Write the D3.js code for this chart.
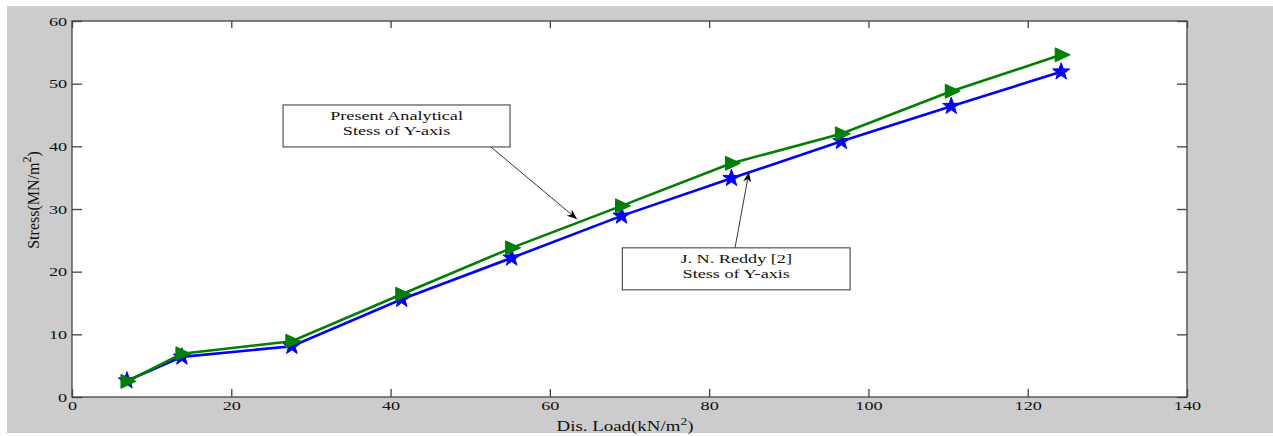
<!DOCTYPE html>
<html>
<head>
<meta charset="utf-8">
<script src="https://cdn.jsdelivr.net/npm/d3@7"></script>
<style>
  body { margin: 0; background: #fff; }
  text { font-family: "Liberation Serif", "Times New Roman", serif; fill: #111; }
</style>
</head>
<body>
<div id="chart"></div>
<script>
// values
const loads = [6.9, 13.8, 27.6, 41.4, 55.2, 69.0, 82.8, 96.6, 110.4, 124.2];
const presentStress = [2.5, 6.9, 8.9, 16.4, 23.8, 30.5, 37.3, 42.0, 48.8, 54.6];
const reddyStress = [2.6, 6.4, 8.1, 15.6, 22.2, 28.9, 34.9, 40.8, 46.4, 51.9];
const xTicks = [0, 20, 40, 60, 80, 100, 120, 140];
const yTicks = [0, 10, 20, 30, 40, 50, 60];

const width = 1273;
const height = 436;
const margin = { top: 21, right: 86, bottom: 39, left: 72 };

const svg = d3.select('#chart')
  .append('svg')
  .attr('width', width)
  .attr('height', height);

// grey figure background
svg.append('rect')
  .attr('x', 7).attr('y', 6)
  .attr('width', width - 7).attr('height', 427)
  .attr('fill', '#cccccc');

const x = d3.scaleLinear().domain([0, 140]).range([margin.left, width - margin.right]);
const y = d3.scaleLinear().domain([0, 60]).range([height - margin.bottom, margin.top]);

svg.append('rect')
  .attr('x', x(0)).attr('y', y(60))
  .attr('width', x(140) - x(0)).attr('height', y(0) - y(60))
  .attr('fill', '#fff')
  .attr('stroke', '#444')
  .attr('stroke-width', 1.3);

const stretch = 1.4; // picture is stretched sideways

const xAxis = svg.append('g')
  .attr('transform', `translate(0,${y(0)})`)
  .call(d3.axisBottom(x).tickValues(xTicks).tickSizeInner(-8).tickSizeOuter(0).tickPadding(4));
xAxis.selectAll('text')
  .style('font-size', '13px')
  .attr('transform', `scale(${stretch},1)`);

svg.append('g')
  .attr('transform', `translate(0,${y(60)})`)
  .call(d3.axisTop(x).tickValues(xTicks).tickSizeInner(-7).tickSizeOuter(0).tickFormat(''));

const yAxis = svg.append('g')
  .attr('transform', `translate(${x(0)},0)`)
  .call(d3.axisLeft(y).tickValues(yTicks).tickSizeInner(-10).tickSizeOuter(0).tickPadding(3.5));
yAxis.selectAll('text')
  .style('font-size', '13px')
  .attr('transform', `scale(${stretch},1)`);

svg.append('g')
  .attr('transform', `translate(${x(140)},0)`)
  .call(d3.axisRight(y).tickValues(yTicks).tickSizeInner(-10).tickSizeOuter(0).tickFormat(''));

svg.selectAll('.domain').remove();
svg.selectAll('.tick line').attr('stroke', '#444').attr('stroke-width', 1.3);

// axis titles
const xt = svg.append('text')
  .attr('text-anchor', 'middle')
  .attr('transform', `translate(625,431) scale(1.35,1)`)
  .style('font-size', '14px');
xt.append('tspan').text('Dis. Load(kN/m');
xt.append('tspan').attr('dy', -6).style('font-size', '10px').text('2');
xt.append('tspan').attr('dy', 6).text(')');

const yt = svg.append('text')
  .attr('text-anchor', 'middle')
  .attr('transform', 'translate(39,200) rotate(-90)')
  .style('font-size', '16px');
yt.append('tspan').text('Stress(MN/m');
yt.append('tspan').attr('dy', -8).style('font-size', '12px').text('2');
yt.append('tspan').attr('dy', 8).text(')');

// series
const series = [
  { values: reddyStress, color: '#0000ff', marker: 'star' },
  { values: presentStress, color: '#008000', marker: 'tri' }
];

const line = d3.line().x(d => x(d[0])).y(d => y(d[1]));

const star = (() => {
  const pts = [];
  for (let i = 0; i < 10; i++) {
    const r = i % 2 === 0 ? 9 : 3.6;
    const a = -Math.PI / 2 + i * Math.PI / 5;
    pts.push([r * Math.cos(a), r * Math.sin(a)]);
  }
  return 'M' + pts.map(p => p.join(',')).join('L') + 'Z';
})();
const tri = 'M-6,-7L9,0L-6,7Z';

series.forEach(s => {
  const pts = loads.map((l, i) => [l, s.values[i]]);
  svg.append('path')
    .attr('d', line(pts))
    .attr('fill', 'none')
    .attr('stroke', s.color)
    .attr('stroke-width', 2.6);
  svg.append('g').selectAll('path')
    .data(pts)
    .enter().append('path')
    .attr('transform', d => `translate(${x(d[0])},${y(d[1])})`)
    .attr('d', s.marker === 'star' ? star : tri)
    .attr('fill', s.color)
    .attr('stroke', s.color)
    .attr('stroke-width', 1);
});

// annotations (data coordinates)
svg.append('defs').append('marker')
  .attr('id', 'head')
  .attr('viewBox', '0 -4 10 8')
  .attr('refX', 10).attr('refY', 0)
  .attr('markerWidth', 11).attr('markerHeight', 8)
  .attr('markerUnits', 'userSpaceOnUse')
  .attr('orient', 'auto')
  .append('path')
  .attr('d', 'M0,-4L10,0L0,4L3,0Z')
  .attr('fill', '#000');

const notes = [
  { lines: ['Present Analytical', 'Stess of Y-axis'], box: [26.5, 46.6, 55.0, 39.9], from: [52.5, 40.0], to: [63.4, 28.4] },
  { lines: ['J. N. Reddy [2]', 'Stess of Y-axis'], box: [69.1, 23.8, 97.7, 17.1], from: [83.25, 23.8], to: [85.0, 35.9] }
];

notes.forEach(n => {
  svg.append('line')
    .attr('x1', x(n.from[0])).attr('y1', y(n.from[1]))
    .attr('x2', x(n.to[0])).attr('y2', y(n.to[1]))
    .attr('stroke', '#222')
    .attr('stroke-width', 0.9)
    .attr('marker-end', 'url(#head)');
  const bx = x(n.box[0]), by = y(n.box[1]);
  const bw = x(n.box[2]) - bx, bh = y(n.box[3]) - by;
  svg.append('rect')
    .attr('x', bx).attr('y', by)
    .attr('width', bw).attr('height', bh)
    .attr('fill', '#fff')
    .attr('stroke', '#333')
    .attr('stroke-width', 1);
  n.lines.forEach((t, i) => {
    svg.append('text')
      .attr('text-anchor', 'middle')
      .attr('transform', `translate(${bx + bw / 2},${by + 15 + i * 15}) scale(1.4,1)`)
      .style('font-size', '13px')
      .text(t);
  });
});
</script>
</body>
</html>
